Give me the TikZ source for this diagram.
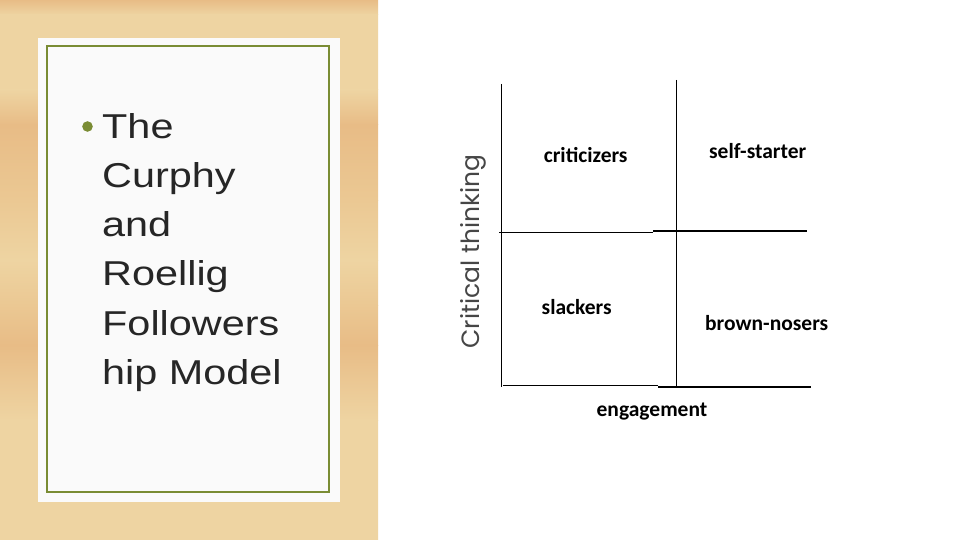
\documentclass[tikz,border=0pt]{standalone}
\usepackage{fontspec}
\setmainfont{Liberation Sans}
\newfontfamily\titlefont[FakeStretch=1.2]{Liberation Sans}
\newfontfamily\quadfont{Carlito}
\newfontfamily\axisfont{Poppins}
\usetikzlibrary{positioning}

\definecolor{woodlight}{RGB}{238,212,162}
\definecolor{woodmid}{RGB}{235,200,147}
\definecolor{wooddark}{RGB}{232,188,134}
\definecolor{cardgreen}{RGB}{122,140,52}
\definecolor{cardwhite}{RGB}{250,250,250}
\definecolor{bodytext}{RGB}{38,38,38}
\definecolor{axisgray}{RGB}{70,70,70}

\tikzset{
  band/.style={draw=none},
  quadlabel/.style={font=\quadfont\bfseries\fontsize{21.5}{24}\selectfont, text=black, inner sep=0pt, anchor=base},
  gridline/.style={black, line width=0.9pt},
  heavyline/.style={black, line width=1.8pt}
}

\begin{document}
\begin{tikzpicture}[x=1pt, y=-1pt]
  \useasboundingbox (0,0) rectangle (960,540);
  \fill[white] (0,0) rectangle (960,540);

  % Wood panel
  \foreach \ya/\yb/\ca/\cb in {0/15/wooddark/woodlight, 15/90/woodlight/woodlight,
      90/125/woodlight/wooddark, 125/200/wooddark/woodmid, 200/260/woodmid/woodlight,
      260/305/woodlight/woodmid, 305/345/woodmid/wooddark, 345/420/wooddark/woodlight,
      420/540/woodlight/woodlight}
    \shade[band, top color=\ca, bottom color=\cb] (0,\ya) rectangle (378,\yb);

  % Card
  \fill[cardwhite] (38,38) rectangle (340,502);
  \draw[cardgreen, line width=1.5pt] (47,46) rectangle (329,492);

  % Bullet text
  \fill[cardgreen] (87.5,126.5) circle (5.3);
  \node[anchor=north west, inner sep=0pt, align=left, text=bodytext,
        font=\titlefont\fontsize{34.5}{49.2}\selectfont] (title) at (102,113)
    {The\\Curphy\\and\\Roellig\\Followers\\hip Model};

  % Axis label
  \node[rotate=90, anchor=base, inner sep=0pt, text=axisgray,
        font=\axisfont\fontsize{25}{28}\selectfont] (critical) at (479.5,251.5)
    {Critical thinking};

  % Grid corners
  \coordinate (lefttop) at (501,84);
  \coordinate (leftbot) at (501,387);
  \coordinate (midtop) at (676,80);
  \coordinate (midbot) at (676,387);
  \coordinate (hleft) at (499,232.3);
  \coordinate (hmid) at (653,232.3);
  \coordinate (hmidr) at (653,231);
  \coordinate (hright) at (807,231);
  \coordinate (bleft) at (503,385);
  \coordinate (bmid) at (658,385);
  \coordinate (bmidr) at (658,386.7);
  \coordinate (bright) at (811,386.7);

  % Grid lines
  \draw[gridline] (lefttop) -- (leftbot);
  \draw[gridline] (midtop) -- (midbot);
  \draw[gridline] (hleft) -- (hmid);
  \draw[heavyline] (hmidr) -- (hright);
  \draw[gridline] (bleft) -- (bmid);
  \draw[heavyline] (bmidr) -- (bright);

  % Quadrant labels
  \node[quadlabel] (critic) at (585.7,162.7) {criticizers};
  \node[quadlabel] (starter) at (757.7,158.3) {self-starter};
  \node[quadlabel] (slack) at (576.7,314) {slackers};
  \node[quadlabel] (brown) at (766.7,330.7) {brown-nosers};
  \node[quadlabel] (engage) at (652,416.7) {engagement};
\end{tikzpicture}
\end{document}
